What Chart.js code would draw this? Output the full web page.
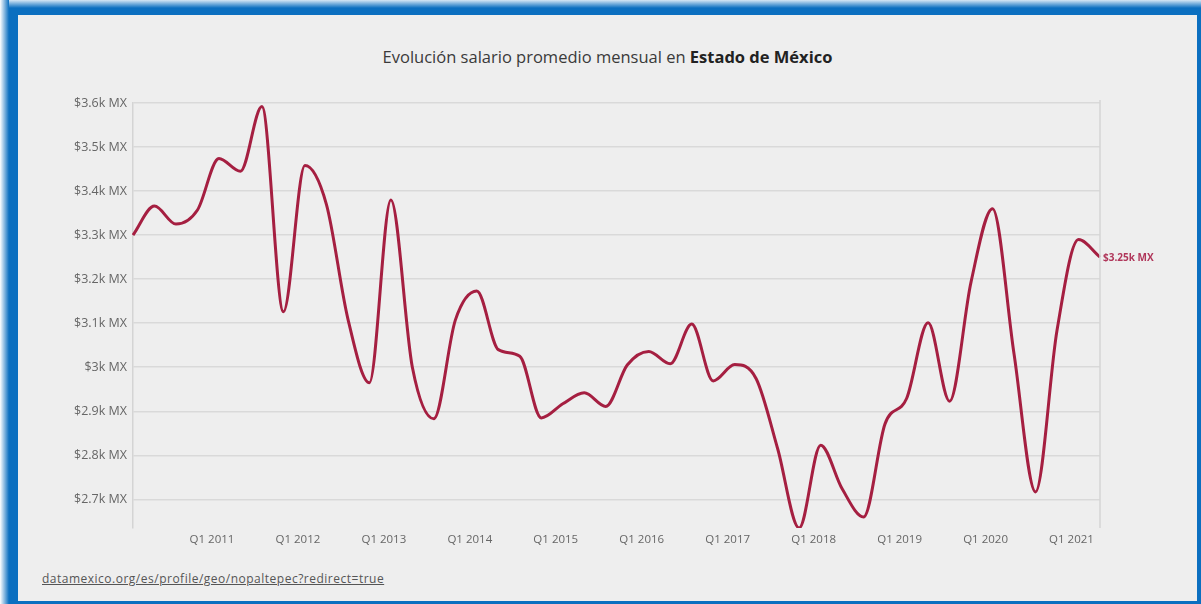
<!DOCTYPE html>
<html>
<head>
<meta charset="utf-8">
<script src="https://cdn.jsdelivr.net/npm/chart.js@4/dist/chart.umd.min.js"></script>
<style>
  html, body { margin: 0; padding: 0; width: 1201px; height: 604px; overflow: hidden; background: #0b6fc0; font-family: "Open Sans", sans-serif; }
  #fadeTop { position: absolute; left: 0; top: 0; width: 1201px; height: 8px; background: linear-gradient(to bottom, #d6e7f5, #0b6fc0); }
  #fadeLeft { position: absolute; left: 0; top: 0; width: 9px; height: 604px; background: linear-gradient(to right, #ffffff, #0b6fc0); }
  #panel { position: absolute; left: 18px; top: 15px; width: 1179px; height: 586px; background: #eeeeee; }
  #titulo { position: absolute; left: 18px; top: 45px; width: 1179px; text-align: center; font-size: 16.5px; color: #3a3a3a; }
  #titulo b { color: #222; }
  #fuente { position: absolute; left: 42px; top: 570px; font-size: 12px; letter-spacing: 0.5px; color: #555; text-decoration: underline; }
  #wrap { position: absolute; left: 0; top: 0; width: 1201px; height: 604px; }
</style>
</head>
<body>
<div id="fadeTop"></div>
<div id="fadeLeft"></div>
<div id="panel"></div>
<div id="titulo">Evolución salario promedio mensual en <b>Estado de México</b></div>
<div id="fuente">datamexico.org/es/profile/geo/nopaltepec?redirect=true</div>
<div id="wrap"><canvas id="salarioChart" width="1201" height="604"></canvas></div>
<script>
    const trimestres = [
        'Q1 2010', 'Q2 2010', 'Q3 2010', 'Q4 2010',
        'Q1 2011', 'Q2 2011', 'Q3 2011', 'Q4 2011',
        'Q1 2012', 'Q2 2012', 'Q3 2012', 'Q4 2012',
        'Q1 2013', 'Q2 2013', 'Q3 2013', 'Q4 2013',
        'Q1 2014', 'Q2 2014', 'Q3 2014', 'Q4 2014',
        'Q1 2015', 'Q2 2015', 'Q3 2015', 'Q4 2015',
        'Q1 2016', 'Q2 2016', 'Q3 2016', 'Q4 2016',
        'Q1 2017', 'Q2 2017', 'Q3 2017', 'Q4 2017',
        'Q1 2018', 'Q2 2018', 'Q3 2018', 'Q4 2018',
        'Q1 2019', 'Q2 2019', 'Q3 2019', 'Q4 2019',
        'Q1 2020', 'Q2 2020', 'Q3 2020', 'Q4 2020',
        'Q1 2021', 'Q2 2021'
    ];

    // salario promedio mensual (MXN)
    const salarios = [
        3300, 3366, 3325, 3357,
        3474, 3445, 3592, 3126,
        3458, 3370, 3110, 2965,
        3380, 3000, 2883, 3107,
        3173, 3040, 3025, 2885,
        2917, 2942, 2911, 3005,
        3036, 3008, 3098, 2969,
        3006, 2974, 2815, 2635,
        2823, 2724, 2660, 2872,
        2929, 3101, 2923, 3194,
        3360, 3030, 2717, 3084,
        3290, 3250
    ];

    const ticksY = [2700, 2800, 2900, 3000, 3100, 3200, 3300, 3400, 3500, 3600];

    const colorLinea = '#a51f41';

    function formatoMX(v) {
        return '$' + (Math.round(v / 10) / 100) + 'k MX';
    }

    // linea derecha del area + etiqueta del ultimo valor
    const extras = {
        id: 'extras',
        afterDatasetsDraw(chart) {
            const ctx = chart.ctx;
            const area = chart.chartArea;
            ctx.save();
            ctx.strokeStyle = '#d4d4d4';
            ctx.lineWidth = 1.5;
            ctx.beginPath();
            ctx.moveTo(area.right, area.top - 3);
            ctx.lineTo(area.right, area.bottom);
            ctx.stroke();

            const meta = chart.getDatasetMeta(0);
            const ultimo = meta.data[meta.data.length - 1];
            ctx.fillStyle = '#b0365a';
            ctx.font = 'bold 10px "Open Sans", sans-serif';
            ctx.textAlign = 'left';
            ctx.textBaseline = 'middle';
            ctx.fillText(formatoMX(salarios[salarios.length - 1]), ultimo.x + 3, ultimo.y + 1);
            ctx.restore();
        }
    };

    const config = {
        type: 'line',
        data: {
            labels: trimestres,
            datasets: [{
                label: 'Salario promedio',
                data: salarios,
                borderColor: colorLinea,
                borderWidth: 3,
                pointRadius: 0,
                fill: false,
                cubicInterpolationMode: 'monotone'
            }]
        },
        options: {
            responsive: false,
            animation: false,
            layout: {
                padding: { left: 60, right: 101, top: 103, bottom: 46 }
            },
            scales: {
                x: {
                    offset: false,
                    grid: { display: false, drawTicks: false },
                    border: { display: false },
                    afterFit: function(scale) { scale.height = 30; },
                    ticks: {
                        autoSkip: false,
                        maxRotation: 0,
                        padding: 5,
                        labelOffset: -7,
                        color: '#666',
                        font: { family: '"Open Sans", sans-serif', size: 11.5 },
                        callback: function(value, index) {
                            const t = trimestres[index];
                            return (index > 0 && t.startsWith('Q1')) ? t : null;
                        }
                    }
                },
                y: {
                    min: 2635,
                    max: 3600,
                    afterFit: function(scale) { scale.width = 73; },
                    afterBuildTicks: function(scale) {
                        scale.ticks = ticksY.map(v => ({ value: v }));
                    },
                    grid: { color: '#d9d9d9', lineWidth: 1.5, drawTicks: false },
                    border: { display: true, color: '#d4d4d4', width: 1.5 },
                    ticks: {
                        padding: 6,
                        color: '#666',
                        font: { family: '"Open Sans", sans-serif', size: 12.5 },
                        callback: function(value) {
                            return formatoMX(value);
                        }
                    }
                }
            },
            plugins: {
                legend: { display: false },
                tooltip: { enabled: false }
            }
        },
        plugins: [extras]
    };

    const ctx = document.getElementById('salarioChart').getContext('2d');
    const chart = new Chart(ctx, config);
</script>
</body>
</html>
